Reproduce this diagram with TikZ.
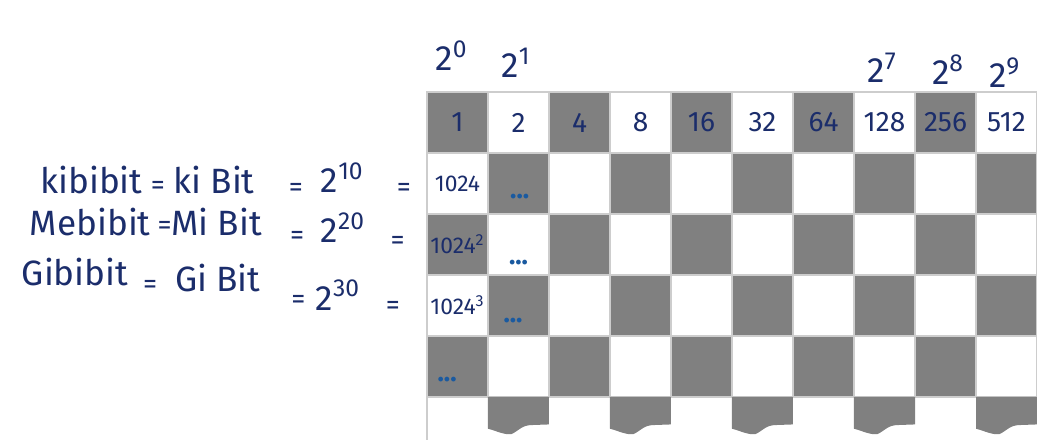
\documentclass[tikz,border=0pt]{standalone}
\usepackage{fontspec}
\setmainfont{Fira Sans}
\usetikzlibrary{positioning}
\definecolor{ink}{RGB}{27,45,107}
\definecolor{dotblue}{RGB}{26,90,160}
\definecolor{boardgray}{RGB}{128,128,128}
\definecolor{boardline}{RGB}{205,205,205}
\tikzset{
  cell/.style={draw=boardline, line width=0.8pt, minimum size=1.22cm, inner sep=0pt},
  hand/.style={text=ink, inner sep=0pt, font=\fontsize{20}{22}\selectfont},
  cellnum/.style={text=ink, inner sep=0pt, font=\fontsize{16}{18}\selectfont},
  bignum/.style={text=ink, inner sep=0pt, font=\fontsize{13}{15}\selectfont},
  eqsign/.style={text=ink, inner sep=0pt, font=\fontsize{16}{18}\selectfont},
  dots/.style={text=dotblue, inner sep=0pt, font=\fontsize{15}{17}\selectfont\bfseries},
}

\begin{document}
\begin{tikzpicture}[x=1.22cm, y=-1.22cm]
    \useasboundingbox (-7,-1.508) rectangle (10,5.77);
    % --- the board
    \foreach \r in {0,...,4}{
      \foreach \c in {0,...,9}{
        \pgfmathtruncatemacro\odd{mod(\r+\c,2)}
        \ifnum\odd=0 \def\shade{boardgray}\else\def\shade{white}\fi
        \node[cell, fill=\shade] (c\r\c) at (\c+0.5,\r+0.5) {};
      }
    }
    % --- torn-off last row
    \foreach \c in {1,3,...,9}{
      \fill[boardgray] (\c,5) -- (\c,5.52) .. controls (\c+0.15,5.56) and (\c+0.25,5.62) .. (\c+0.38,5.61)
        .. controls (\c+0.5,5.56) and (\c+0.55,5.46) .. (\c+0.72,5.46) -- (\c+1,5.45) -- (\c+1,5) -- cycle;
    }
    \draw[boardline, line width=0.8pt] (0,5) -- (0,5.7);
    % --- powers of two
    \foreach \c/\v in {0/1,1/2,2/4,3/8,4/16,5/32,6/64,7/128,8/256,9/512}
      \node[cellnum] (v\c) at (c0\c) {\v};
    \foreach \c/\e/\x/\y in {0/0/0.4/-0.6, 1/1/1.46/-0.48, 7/7/7.46/-0.4, 8/8/8.54/-0.37, 9/9/9.47/-0.32}
      \node[hand] (p\c) at (\x,\y) {2\textsuperscript{\e}};
    \node[bignum] (k1) at (c10) {1024};
    \node[bignum] (k2) at (c20) {1024\textsuperscript{2}};
    \node[bignum] (k3) at (c30) {1024\textsuperscript{3}};
    \node[dots] (d1) at (1.52,1.72) {...};
    \node[dots] (d2) at (1.5,2.79) {...};
    \node[dots] (d3) at (1.41,3.74) {...};
    \node[dots] (d4) at (0.33,4.72) {...};
    % --- binary prefixes
    \node[hand] (kibi) at (-5.5,1.44) {kibibit};
    \node[eqsign] (e11) at (-4.41,1.57) {=};
    \node[hand] (ki) at (-3.49,1.44) {ki Bit};
    \node[eqsign] (e12) at (-2.15,1.61) {=};
    \node[hand] (t10) at (-1.39,1.41) {2\textsuperscript{10}};
    \node[eqsign] (e13) at (-0.38,1.61) {=};
    \node[hand] (mebi) at (-5.52,2.13) {Mebibit};
    \node[eqsign] (e21) at (-4.3,2.23) {=};
    \node[hand] (mi) at (-3.45,2.13) {Mi Bit};
    \node[eqsign] (e22) at (-2.13,2.39) {=};
    \node[hand] (t20) at (-1.38,2.23) {2\textsuperscript{20}};
    \node[eqsign] (e23) at (-0.48,2.48) {=};
    \node[hand] (gibi) at (-5.77,2.95) {Gibibit};
    \node[eqsign] (e31) at (-4.54,3.2) {=};
    \node[hand] (gi) at (-3.43,3.05) {Gi Bit};
    \node[eqsign] (e32) at (-2.11,3.44) {=};
    \node[hand] (t30) at (-1.46,3.33) {2\textsuperscript{30}};
    \node[eqsign] (e33) at (-0.56,3.54) {=};
\end{tikzpicture}
\end{document}
